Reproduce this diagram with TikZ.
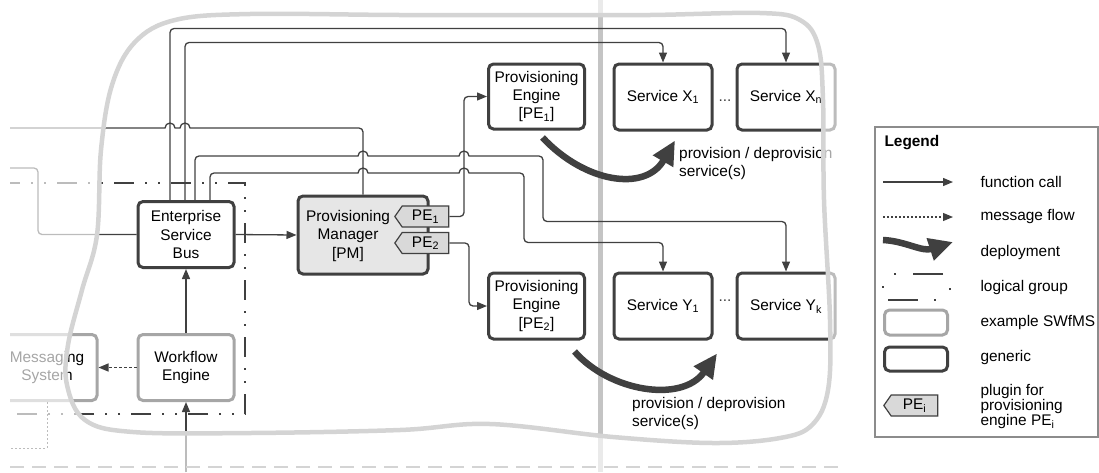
\documentclass[tikz,border=0pt]{standalone}
\usepackage{fontspec}
\setmainfont{Liberation Sans}
\usetikzlibrary{arrows.meta,shapes.symbols}
\definecolor{dk}{HTML}{404040}
\definecolor{md}{HTML}{A6A6A6}
\definecolor{lt}{HTML}{D4D4D4}
\definecolor{divgray}{HTML}{C4C4C4}
\definecolor{pmfill}{HTML}{E6E6E6}
\definecolor{plugfill}{HTML}{D9D9D9}
\definecolor{legframe}{HTML}{8C8C8C}
\begin{document}
\begin{tikzpicture}[x=1pt,y=-1pt,
  font=\fontsize{15.4}{18.3}\selectfont,
  generic/.style={draw=dk,line width=3pt,rounded corners=5pt,fill=white,align=center,
    minimum width=96pt,minimum height=66pt,inner sep=2pt},
  swfms/.style={generic,draw=md},
  plugin/.style={signal,signal to=west,signal pointer angle=110,draw=dk,line width=1.2pt,
    fill=plugfill,minimum width=54pt,minimum height=21pt,inner sep=1pt},
  wire/.style={draw=dk,line width=1.3pt},
  call/.style={wire,rounded corners=4pt,-{Triangle[length=10pt,width=8pt]}},
  msg/.style={wire,dash pattern=on 3pt off 2pt,-{Triangle[length=10pt,width=8pt]}},
  deploy/.style={draw=dk,line width=6.5pt,-{Triangle[length=24pt,width=22pt]}},
  logical/.style={draw=dk,line width=2.5pt,dash pattern=on 20pt off 11pt on 2pt off 11pt on 2pt off 11pt},
  hop/.style={insert path={arc[start angle=180,end angle=0,radius=5pt]}},
  blob/.style={insert path={plot[smooth cycle,tension=0.6] coordinates {
    (97,235) (101,150) (112,85) (135,42) (175,20) (250,14) (400,15) (550,15) (650,15)
    (760,13) (800,20) (818,45) (823,100) (824,200) (830,320) (828,390) (812,425)
    (780,438) (713,443) (613,437) (490,424) (400,430) (250,433) (133,432) (85,420)
    (67,385) (68,345) (82,290)}}}]
% coordinates are pixels of the sketch, y runs downwards
\useasboundingbox (0,0) rectangle (1099,472);
\begin{scope}
\clip (10,0) rectangle (1099,472);
\draw[draw=divgray,line width=5pt] (600,0) -- (600,472);
\draw[logical] (0,183) -| (245,414) -- (0,414);
% boxes
\node[generic] (esb) at (186,234.5) {Enterprise\\Service\\Bus};
\node[swfms] (we) at (186,367.5) {Workflow\\Engine};
\node[swfms,minimum width=100pt] (ms) at (47,367.5) {Messaging\\System};
\node[generic,fill=pmfill,minimum width=130pt,minimum height=78pt] (pm) at (363,235) {};
\node[align=center] (pmlabel) at (348,236) {Provisioning\\Manager\\{[PM]}};
\node[plugin] (plug1) at ([xshift=-4pt,yshift=18.5pt]pm.east) {PE\textsubscript{1}};
\node[plugin] (plug2) at ([xshift=-4pt,yshift=-8pt]pm.east) {PE\textsubscript{2}};
\node[generic,minimum height=65pt] (pe1) at (536.5,96.5) {Provisioning\\Engine\\{[PE\textsubscript{1}]}};
\node[generic,minimum height=66pt] (pe2) at (536.5,306) {Provisioning\\Engine\\{[PE\textsubscript{2}]}};
\node[generic,minimum width=98pt] (x1) at (663,97) {Service X\textsubscript{1}};
\node[generic,minimum width=98pt] (xn) at (786,97) {Service X\textsubscript{n}};
\node[generic,minimum width=98pt] (y1) at (663,306) {Service Y\textsubscript{1}};
\node[generic,minimum width=98pt] (yk) at (786,306) {Service Y\textsubscript{k}};
\node[text=dk,inner sep=0pt] (xdots) at (725,101) {...};
\node[text=dk,inner sep=0pt] (ydots) at (725,301) {...};
% free ends
\coordinate (pmout) at (0,128);
\coordinate (esbin) at (0,168);
\coordinate (wein) at (186,472);
\coordinate (msout) at (0,448);
% connectors
\draw[wire] (pmout) -- (165,128) [hop] -- (180,128) [hop] -- (300,128) [rounded corners=4pt] -| (pm.north);
\draw[wire,rounded corners=4pt] (esbin) -- (38,168) |- (esb.west);
\draw[call] ([xshift=-16pt]esb.north) |- ([yshift=34pt]xn.north) -- (xn.north);
\draw[call] ([xshift=-1pt]esb.north) |- ([yshift=20pt]x1.north) -- (x1.north);
\draw[call] ([xshift=9pt]esb.north) |- (300,156) [sharp corners] -- (358,156) [hop] -- (459,156) [hop]
  -- (500,156) [rounded corners=4pt] -| (543,200) |- ([yshift=50pt]yk.north) -- (yk.north);
\draw[call] ([xshift=24pt]esb.north) |- (300,173) [sharp corners] -- (358,173) [hop] -- (459,173) [hop]
  -- (490,173) [rounded corners=4pt] -| (524,210) |- ([yshift=29pt]y1.north) -- (y1.north);
\draw[call] (esb.east) -- (pm.west);
\draw[call] (we.north) -- (esb.south);
\draw[call] (wein) -- (we.south);
\draw[msg] (we.west) -- (ms.east);
\draw[wire,line width=1pt,dash pattern=on 2pt off 2pt] (ms.south) |- (msout);
\draw[call] (plug1.east) -| ([xshift=-23pt]pe1.west) -- (pe1.west);
\draw[call] (plug2.east) -| ([xshift=-18pt]pe2.west) -- (pe2.west);
\draw[deploy] ([xshift=6pt,yshift=-7pt]pe1.south) .. controls +(42,45) and +(-30,52) .. ([xshift=12pt,yshift=-9pt]x1.south);
\draw[deploy] ([xshift=38pt,yshift=-11pt]pe2.south) .. controls +(35,40) and +(-35,50) .. ([xshift=54pt,yshift=-13pt]y1.south);
\node[anchor=north west,align=left,inner sep=0pt] (dep1txt) at (679,147) {provision / deprovision\\service(s)};
\node[anchor=north west,align=left,inner sep=0pt] (dep2txt) at (632,397) {provision / deprovision\\service(s)};
\end{scope}
% fade everything outside the SWfMS outline
\fill[white,opacity=0.65,even odd rule] (0,0) rectangle (1099,472) [blob];
\draw[draw=lt,line width=4.5pt] (97,235) [blob];
\draw[draw=lt,line width=2pt,dash pattern=on 14pt off 8pt] (10,467) -- (843,467);
% legend
\draw[draw=legframe,line width=1.5pt] (875,127) rectangle (1098,437);
\node[anchor=west,font=\fontsize{15.4}{18.3}\selectfont\bfseries] (legtitle) at (881,143) {Legend};
\coordinate (fcA) at (883,182); \coordinate (fcB) at (953,182);
\coordinate (mfA) at (883,217); \coordinate (mfB) at (953,217);
\coordinate (dpA) at (883,240); \coordinate (dpB) at (953,242);
\draw[call] (fcA) -- (fcB);
\draw[wire,line width=1.1pt,dash pattern=on 2pt off 2pt,-{Triangle[length=10pt,width=8pt]}] (mfA) -- (mfB);
\draw[deploy] (dpA) .. controls (905,241) and (922,252) .. (dpB);
\draw[logical,dash pattern=on 2pt off 17pt on 30pt off 16pt on 2pt off 24pt on 2pt off 21pt on 30pt off 17pt on 2pt off 23pt,dash phase=174pt]
  (883,274) -- (883,300) -- (950,300) -- (950,274) -- cycle;
\node[swfms,minimum width=63pt,minimum height=25pt] (legsw) at (916,322.5) {};
\node[generic,minimum width=63pt,minimum height=24pt] (leggen) at (916,359) {};
\node[plugin] (legplug) at (914.5,405.5) {PE\textsubscript{i}};
\node[anchor=west] (legfc) at (977,182) {function call};
\node[anchor=west] (legmf) at (977,217) {message flow};
\node[anchor=west] (legdp) at (977,253) {deployment};
\node[anchor=west] (leglg) at (977,288) {logical group};
\node[anchor=west] (legsx) at (977,323) {example SWfMS};
\node[anchor=west] (leggx) at (977,358) {generic};
\node[anchor=west,align=left,font=\fontsize{15.4}{15}\selectfont] (legpx) at (977,407) {plugin for\\provisioning\\engine PE\textsubscript{i}};
\end{tikzpicture}
\end{document}
